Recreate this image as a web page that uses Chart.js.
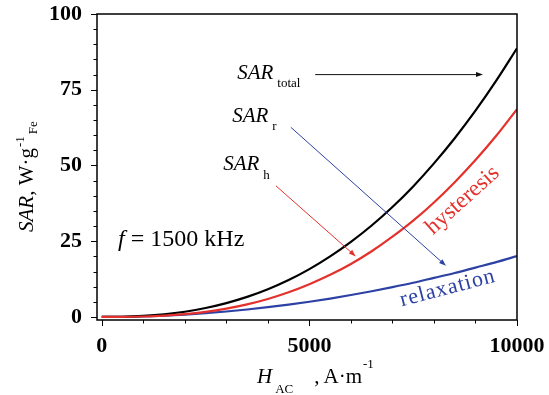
<!DOCTYPE html>
<html>
<head>
<meta charset="utf-8">
<title>SAR vs H_AC</title>
<script src="https://cdn.jsdelivr.net/npm/chart.js@4/dist/chart.umd.min.js"></script>
<style>
  body { margin: 0; background: #fff; }
  canvas { display: block; }
</style>
</head>
<body>
<canvas id="sarChart" width="549" height="395"></canvas>
<script>
// --- Data (H in A/m, SAR in W/g Fe) ---
const H_VALUES = [0, 500, 1000, 1500, 2000, 2500, 3000, 3500, 4000, 4500, 5000,
                  5500, 6000, 6500, 7000, 7500, 8000, 8500, 9000, 9500, 10000];
const SAR_TOTAL = [0, 0.07, 0.35, 0.88, 1.73, 2.95, 4.57, 6.62, 9.16, 12.2, 15.8,
                   20.0, 24.8, 30.2, 36.3, 43.1, 50.7, 59.0, 68.1, 78.0, 88.7];
const SAR_HYST = [0, 0.02, 0.15, 0.43, 0.93, 1.69, 2.76, 4.16, 5.94, 8.14, 10.8,
                  13.9, 17.5, 21.7, 26.5, 31.8, 37.8, 44.5, 51.8, 59.8, 68.6];
const SAR_RELAX = [0, 0.05, 0.2, 0.45, 0.8, 1.26, 1.81, 2.46, 3.22, 4.07, 5.03,
                   6.08, 7.24, 8.49, 9.85, 11.3, 12.9, 14.5, 16.3, 18.1, 20.1];

// tick positions and which of them carry a label
const X_TICKS = [0, 1000, 2000, 3000, 4000, 5000, 6000, 7000, 8000, 9000, 10000];
const X_LABELS = [0, 5000, 10000];
const Y_TICKS = [0, 5, 10, 15, 20, 25, 30, 35, 40, 45, 50, 55, 60, 65, 70, 75, 80, 85, 90, 95, 100];
const Y_LABELS = [0, 25, 50, 75, 100];

const RED = '#e4312b';
const BLUE = '#2c41a3';
const SERIF = '"Liberation Serif", "Times New Roman", serif';

function toPoints(values) {
    return H_VALUES.map((h, i) => ({ x: h, y: values[i] }));
}

// --- HELPERS ---

// draw text pieces one after another (for sub/superscripts)
function drawRuns(ctx, x, y, runs) {
    runs.forEach(r => {
        x += r.gap || 0;
        ctx.font = r.font;
        ctx.fillText(r.text, x, y + (r.dy || 0));
        x += ctx.measureText(r.text).width;
    });
}

function arrow(ctx, x1, y1, x2, y2, color, width, headLen, headHalf) {
    const ang = Math.atan2(y2 - y1, x2 - x1);
    ctx.strokeStyle = color;
    ctx.fillStyle = color;
    ctx.lineWidth = width;
    ctx.beginPath();
    ctx.moveTo(x1, y1);
    ctx.lineTo(x2 - Math.cos(ang) * headLen * 0.6, y2 - Math.sin(ang) * headLen * 0.6);
    ctx.stroke();
    ctx.save();
    ctx.translate(x2, y2);
    ctx.rotate(ang);
    ctx.beginPath();
    ctx.moveTo(0, 0);
    ctx.lineTo(-headLen, -headHalf);
    ctx.lineTo(-headLen, headHalf);
    ctx.closePath();
    ctx.fill();
    ctx.restore();
}

// frame, tick marks, axis titles and the in-plot annotations
const sarDecorations = {
    id: 'sarDecorations',
    afterDraw(chart) {
        const ctx = chart.ctx;
        const area = chart.chartArea;
        const px = v => chart.scales.x.getPixelForValue(v);
        const py = v => chart.scales.y.getPixelForValue(v);
        const it = s => 'italic ' + s + 'px ' + SERIF;
        const up = s => s + 'px ' + SERIF;

        ctx.save();
        ctx.strokeStyle = '#000';
        ctx.lineWidth = 1.5;
        ctx.strokeRect(area.left, area.top, area.right - area.left, area.bottom - area.top);

        ctx.lineWidth = 1;
        ctx.beginPath();
        X_TICKS.forEach(v => {
            const len = X_LABELS.includes(v) ? 6 : 3.5;
            const x = Math.round(px(v)) + 0.5;
            ctx.moveTo(x, area.bottom);
            ctx.lineTo(x, area.bottom + len);
        });
        Y_TICKS.forEach(v => {
            const len = Y_LABELS.includes(v) ? 6 : 3.5;
            const y = Math.round(py(v)) + 0.5;
            ctx.moveTo(area.left, y);
            ctx.lineTo(area.left - len, y);
        });
        ctx.stroke();

        // arrows
        arrow(ctx, px(5140), py(80.0), px(9181), py(80.0), '#111', 1, 7, 2.5);
        arrow(ctx, px(4554), py(62.6), px(8289), py(16.9), BLUE, 1, 7, 2.5);
        arrow(ctx, px(4193), py(43.3), px(6116), py(20.0), RED, 1, 7, 2.5);

        ctx.textBaseline = 'alphabetic';
        ctx.textAlign = 'left';
        ctx.fillStyle = '#000';
        drawRuns(ctx, px(3260), py(78.5), [
            { text: 'SAR', font: it(21) },
            { text: 'total', font: up(13), dy: 8, gap: 4 }
        ]);
        drawRuns(ctx, px(3140), py(64.4), [
            { text: 'SAR', font: it(21) },
            { text: 'r', font: up(13), dy: 8, gap: 4 }
        ]);
        drawRuns(ctx, px(2923), py(48.5), [
            { text: 'SAR', font: it(21) },
            { text: 'h', font: up(13), dy: 8.5, gap: 4 }
        ]);
        drawRuns(ctx, px(393), py(23.4), [
            { text: 'f', font: it(24) },
            { text: ' = 1500 kHz', font: up(24) }
        ]);

        // curve labels
        ctx.textAlign = 'center';
        ctx.save();
        ctx.fillStyle = RED;
        ctx.font = up(23);
        ctx.translate(px(8790), py(37.0));
        ctx.rotate(-42 * Math.PI / 180);
        ctx.fillText('hysteresis', 0, 0);
        ctx.restore();

        ctx.save();
        ctx.fillStyle = BLUE;
        ctx.font = up(22);
        ctx.letterSpacing = '1px';
        ctx.translate(px(8368), py(7.6));
        ctx.rotate(-14.7 * Math.PI / 180);
        ctx.fillText('relaxation', 0, 0);
        ctx.restore();

        // axis titles
        ctx.textAlign = 'left';
        ctx.fillStyle = '#000';
        drawRuns(ctx, 257, 383, [
            { text: 'H', font: it(21) },
            { text: 'AC', font: up(13), dy: 10, gap: 3 },
            { text: ',', font: up(21), gap: 21 },
            { text: 'A\u00b7m', font: up(21), gap: 4 },
            { text: '-1', font: up(13), dy: -15, gap: 1 }
        ]);

        ctx.save();
        ctx.translate(33, 232);
        ctx.rotate(-Math.PI / 2);
        drawRuns(ctx, 0, 0, [
            { text: 'SAR', font: it(21) },
            { text: ', W\u00b7g', font: up(21) },
            { text: '-1', font: up(13), dy: -9, gap: 1 },
            { text: 'Fe', font: up(13), dy: 4, gap: 2 }
        ]);
        ctx.restore();
        ctx.restore();
    }
};

// --- CHART ---
const tickFont = { family: SERIF, size: 22, weight: 'bold' };

new Chart(document.getElementById('sarChart').getContext('2d'), {
    type: 'line',
    data: {
        datasets: [
            { label: 'SAR h', data: toPoints(SAR_HYST), borderColor: RED, order: 0 },
            { label: 'SAR total', data: toPoints(SAR_TOTAL), borderColor: '#000', order: 1 },
            { label: 'SAR r', data: toPoints(SAR_RELAX), borderColor: BLUE, order: 2 }
        ]
    },
    options: {
        responsive: false,
        animation: false,
        devicePixelRatio: 1,
        elements: {
            point: { radius: 0 },
            line: { borderWidth: 2.2, cubicInterpolationMode: 'monotone', fill: false }
        },
        layout: { padding: { top: 14, right: 32, left: 0, bottom: 0 } },
        plugins: { legend: { display: false }, tooltip: { enabled: false } },
        scales: {
            x: {
                type: 'linear',
                min: -115,
                max: 10000,
                afterBuildTicks: axis => { axis.ticks = X_LABELS.map(v => ({ value: v })); },
                afterFit: axis => {
                    axis.height = 75;
                    axis.paddingLeft = 0;
                    axis.paddingRight = 0;
                },
                grid: { display: false, drawTicks: false },
                border: { display: false },
                ticks: { font: tickFont, color: '#000', padding: 13, maxRotation: 0, autoSkip: false,
                         callback: v => String(v) }
            },
            y: {
                min: -1,
                max: 100,
                afterBuildTicks: axis => { axis.ticks = Y_LABELS.map(v => ({ value: v })); },
                afterFit: axis => {
                    axis.width = 97;
                    axis.paddingTop = 0;
                    axis.paddingBottom = 0;
                },
                grid: { display: false, drawTicks: false },
                border: { display: false },
                ticks: { font: tickFont, color: '#000', padding: 15, autoSkip: false,
                         callback: v => String(v) }
            }
        }
    },
    plugins: [sarDecorations]
});
</script>
</body>
</html>
